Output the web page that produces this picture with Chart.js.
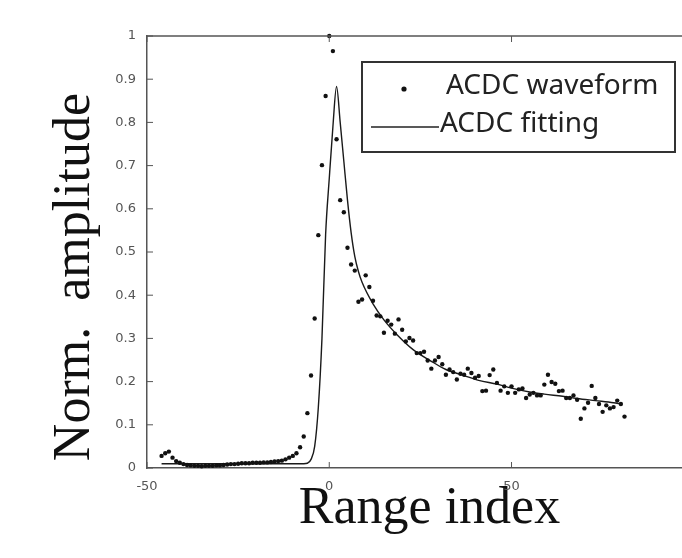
<!DOCTYPE html>
<html>
<head>
<meta charset="utf-8">
<script src="https://cdn.jsdelivr.net/npm/chart.js@4.4.1/dist/chart.umd.min.js"></script>
<style>
  html, body { margin: 0; padding: 0; background: #fff; }
  #wrap { width: 682px; height: 558px; overflow: hidden; position: relative; }
  #wrap canvas { position: absolute; left: 0; top: 0; }
</style>
</head>
<body>
<div id="wrap"><canvas id="chart" width="720" height="558"></canvas></div>
<script>
// measured waveform samples (range index -> normalised amplitude)
const waveformX = [
    -46, -45, -44, -43, -42, -41, -40, -39, -38, -37, -36, -35, -34, -33, -32, -31, -30, -29, -28, -27,
    -26, -25, -24, -23, -22, -21, -20, -19, -18, -17, -16, -15, -14, -13, -12, -11, -10, -9, -8, -7,
    -6, -5, -4, -3, -2, -1, 0, 1, 2, 3, 4, 5, 6, 7, 8, 9, 10, 11, 12, 13,
    14, 15, 16, 17, 18, 19, 20, 21, 22, 23, 24, 25, 26, 27, 28, 29, 30, 31, 32, 33,
    34, 35, 36, 37, 38, 39, 40, 41, 42, 43, 44, 45, 46, 47, 48, 49, 50, 51, 52, 53,
    54, 55, 56, 57, 58, 59, 60, 61, 62, 63, 64, 65, 66, 67, 68, 69, 70, 71, 72, 73,
    74, 75, 76, 77, 78, 79, 80, 81,
];
const waveformY = [
    0.028, 0.034, 0.038, 0.024, 0.016, 0.012, 0.009, 0.007, 0.006, 0.005, 0.005, 0.004, 0.005, 0.005, 0.005, 0.006, 0.006, 0.007, 0.008, 0.009,
    0.009, 0.010, 0.011, 0.011, 0.011, 0.012, 0.012, 0.012, 0.013, 0.013, 0.014, 0.015, 0.016, 0.017, 0.020, 0.024, 0.028, 0.034, 0.048, 0.073,
    0.127, 0.214, 0.346, 0.539, 0.701, 0.861, 1.0, 0.965, 0.761, 0.62, 0.592, 0.51, 0.471, 0.457, 0.385, 0.39, 0.446, 0.419, 0.387, 0.353,
    0.351, 0.313, 0.341, 0.332, 0.311, 0.344, 0.32, 0.293, 0.301, 0.295, 0.266, 0.266, 0.269, 0.249, 0.23, 0.249, 0.257, 0.24, 0.216, 0.228,
    0.222, 0.205, 0.218, 0.216, 0.23, 0.22, 0.209, 0.213, 0.178, 0.179, 0.215, 0.228, 0.197, 0.179, 0.189, 0.174, 0.189, 0.174, 0.182, 0.184,
    0.162, 0.17, 0.174, 0.168, 0.168, 0.193, 0.216, 0.199, 0.195, 0.178, 0.179, 0.162, 0.162, 0.168, 0.158, 0.114, 0.138, 0.151, 0.19, 0.162,
    0.148, 0.13, 0.145, 0.138, 0.141, 0.156, 0.148, 0.119,
];

// fitted curve
const fittingX = [-46, -7, -6, -5, -4, -3, -2, -1, 0, 1, 2, 3, 4, 5, 6, 7, 8, 9, 12, 15, 19, 23, 28, 32, 37, 41, 46, 50, 55, 59, 64, 68, 73, 78, 80];
const fittingY = [0.01, 0.01, 0.011, 0.02, 0.05, 0.14, 0.30, 0.54, 0.67, 0.79, 0.883, 0.80, 0.71, 0.62, 0.545, 0.49, 0.455, 0.43, 0.38, 0.343, 0.305, 0.274, 0.247, 0.228, 0.214, 0.203, 0.194, 0.185, 0.176, 0.171, 0.166, 0.161, 0.156, 0.151, 0.148];

const xTicks = [-50, 0, 50, 100];
const yTicks = [0, 0.1, 0.2, 0.3, 0.4, 0.5, 0.6, 0.7, 0.8, 0.9, 1];
const yTickLabels = ['0', '0.1', '0.2', '0.3', '0.4', '0.5', '0.6', '0.7', '0.8', '0.9', '1'];

const axisColor = '#555';
const tickFont = { family: "'DejaVu Sans', sans-serif", size: 13 };
const titleFont = { family: "'Liberation Serif', serif", size: 52 };

const toPoints = (xs, ys) => xs.map((x, i) => ({ x, y: ys[i] }));

// box on top edge + inward tick marks, like the matlab axes
const framePlugin = {
    id: 'frame',
    afterDatasetsDraw(chart) {
        const { ctx, chartArea, scales } = chart;
        const { left, top, bottom } = chartArea;
        ctx.save();
        ctx.strokeStyle = axisColor;
        ctx.lineWidth = 1.5;
        ctx.beginPath();
        ctx.moveTo(left, top);
        ctx.lineTo(chart.width, top);
        ctx.stroke();
        ctx.lineWidth = 1;
        ctx.beginPath();
        yTicks.forEach((v) => {
            const y = scales.y.getPixelForValue(v);
            ctx.moveTo(left, y);
            ctx.lineTo(left + 6, y);
        });
        xTicks.forEach((v) => {
            const x = scales.x.getPixelForValue(v);
            ctx.moveTo(x, bottom);
            ctx.lineTo(x, bottom - 6);
            ctx.moveTo(x, top);
            ctx.lineTo(x, top + 6);
        });
        ctx.stroke();
        ctx.restore();
    },
};

// y title sits lower than the axis centre in the original
const yTitlePlugin = {
    id: 'yTitle',
    afterDraw(chart) {
        const { ctx } = chart;
        ctx.save();
        ctx.translate(75, 277);
        ctx.rotate(-Math.PI / 2);
        ctx.font = `${titleFont.size}px ${titleFont.family}`;
        ctx.fillStyle = '#111';
        ctx.textAlign = 'center';
        ctx.textBaseline = 'middle';
        ctx.fillText('Norm.  amplitude', 0, 0);
        ctx.restore();
    },
};

const legendPlugin = {
    id: 'boxLegend',
    afterDraw(chart) {
        const { ctx } = chart;
        const [wave, fit] = chart.data.datasets;
        ctx.save();
        ctx.fillStyle = '#fff';
        ctx.fillRect(362, 62, 313, 90);
        ctx.strokeStyle = '#333';
        ctx.lineWidth = 2;
        ctx.strokeRect(362, 62, 313, 90);

        ctx.fillStyle = '#111';
        ctx.beginPath();
        ctx.arc(404, 89, 2.6, 0, Math.PI * 2);
        ctx.fill();

        ctx.strokeStyle = '#222';
        ctx.lineWidth = 1.5;
        ctx.beginPath();
        ctx.moveTo(371, 127);
        ctx.lineTo(439, 127);
        ctx.stroke();

        ctx.font = "28px 'Noto Sans', sans-serif";
        ctx.fillStyle = '#222';
        ctx.textBaseline = 'middle';
        ctx.fillText(wave.label, 446, 86);
        ctx.fillText(fit.label, 440, 124);
        ctx.restore();
    },
};

new Chart(document.getElementById('chart'), {
    type: 'scatter',
    data: {
        datasets: [
            {
                label: 'ACDC waveform',
                data: toPoints(waveformX, waveformY),
                pointRadius: 2.2,
                pointBackgroundColor: '#111',
                pointBorderWidth: 0,
                clip: 6,
            },
            {
                label: 'ACDC fitting',
                data: toPoints(fittingX, fittingY),
                showLine: true,
                cubicInterpolationMode: 'monotone',
                borderColor: '#1a1a1a',
                borderWidth: 1.4,
                pointRadius: 0,
                fill: false,
            },
        ],
    },
    options: {
        responsive: false,
        animation: false,
        events: [],
        layout: { padding: { left: 0, top: 36, right: 8, bottom: 0 } },
        plugins: {
            legend: { display: false },
            tooltip: { enabled: false },
        },
        scales: {
            x: {
                type: 'linear',
                min: -50,
                max: 105,
                afterBuildTicks: (s) => { s.ticks = xTicks.map((v) => ({ value: v })); },
                afterFit: (s) => { s.height = 90; },
                grid: { display: false, drawTicks: false },
                border: { color: axisColor, width: 1.5 },
                ticks: { color: axisColor, font: tickFont, padding: 11, maxRotation: 0 },
                title: {
                    display: true,
                    text: 'Range index',
                    font: titleFont,
                    color: '#111',
                    padding: { top: 0, bottom: 17 },
                },
            },
            y: {
                type: 'linear',
                min: 0,
                max: 1,
                afterBuildTicks: (s) => { s.ticks = yTicks.map((v) => ({ value: v })); },
                afterFit: (s) => { s.width = 147; },
                grid: { display: false, drawTicks: false },
                border: { color: axisColor, width: 1.5 },
                ticks: {
                    color: axisColor,
                    font: tickFont,
                    padding: 11,
                    callback: (v, i) => yTickLabels[i],
                },
            },
        },
    },
    plugins: [framePlugin, yTitlePlugin, legendPlugin],
});
</script>
</body>
</html>
